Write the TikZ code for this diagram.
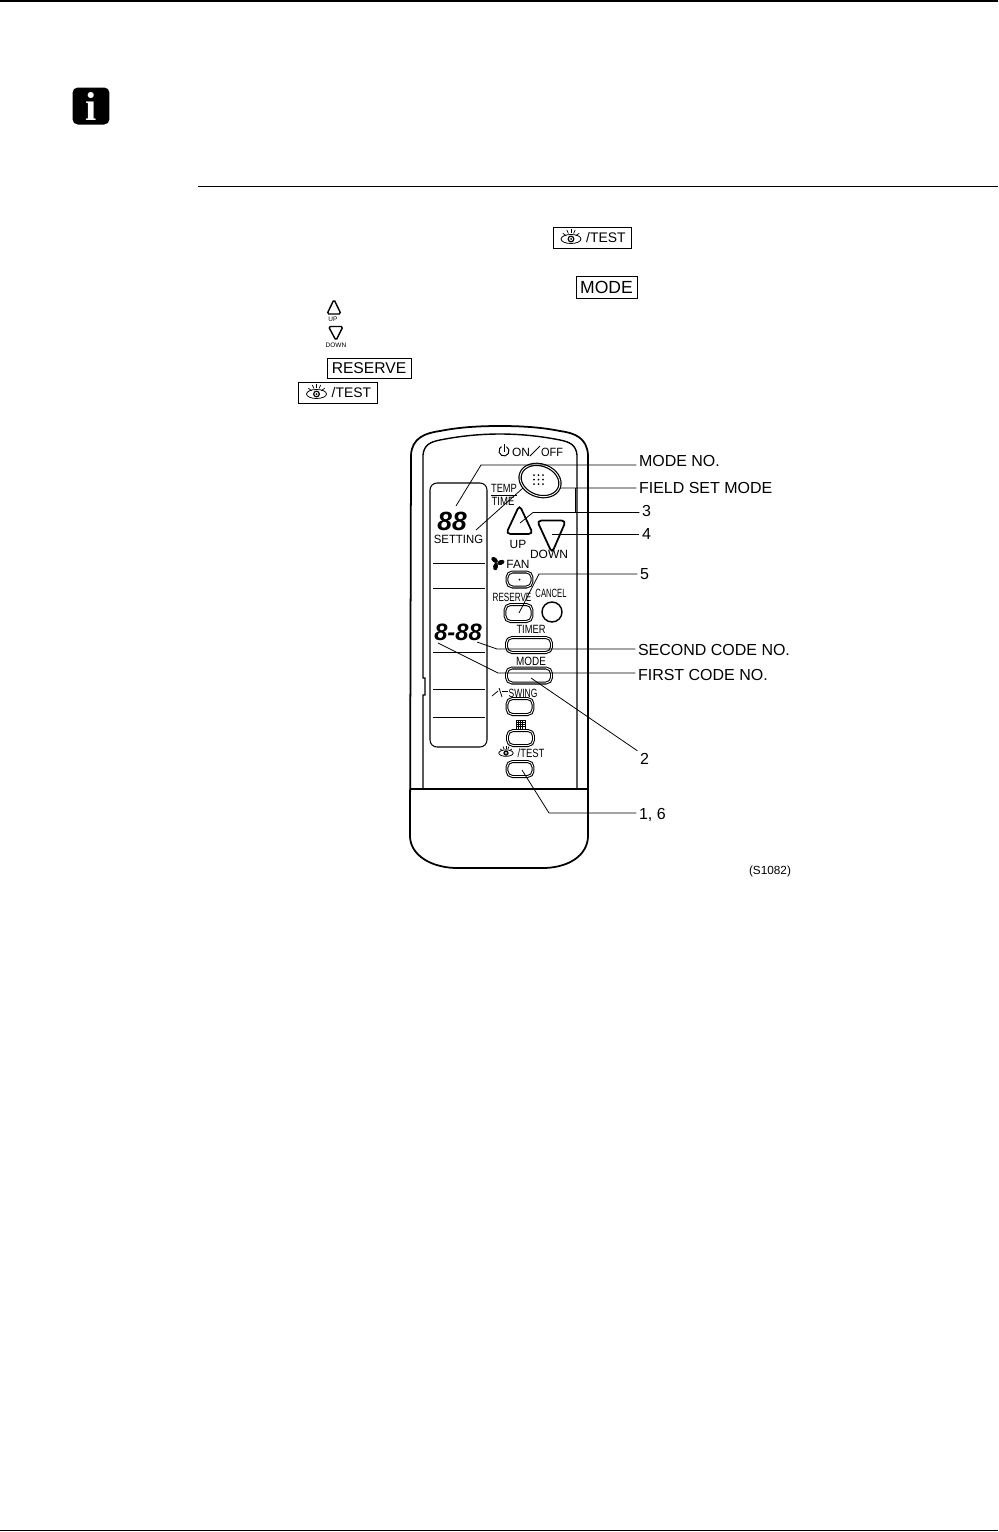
\documentclass[tikz,border=0pt]{standalone}
\usepackage{fontspec}
\setmainfont{Liberation Sans}
\newfontfamily\infofont{Liberation Serif}
\usetikzlibrary{shapes.geometric}
\tikzset{
  eyeicon/.pic={
    \draw[line width=0.45pt] (0,1.5) ellipse (10 and 4.5);
    \draw[line width=0.7pt] (0,1.5) circle (2.8);
    \fill (0,1.5) circle (1);
    \foreach \a in {215,245,270,295,325} \draw[line width=0.4pt] ($(0,1.5)+(\a:6)$) -- ($(0,1.5)+(\a:10)$);
  },
  fanicon/.pic={
    \foreach \a in {20,140,260} \fill[rotate=\a] (3.8,0.8) ellipse (3.8 and 2.4);
  }
}
\usetikzlibrary{calc}
\begin{document}
\begin{tikzpicture}[x=0.02cm, y=-0.02cm,
    every node/.style={inner sep=0pt, text depth=0pt},
    lblstyle/.style={font=\fontsize{9.1}{11}\selectfont, anchor=west, outer sep=1.5pt},
    remtxt/.style={font=\fontsize{6.8}{8}\selectfont, transform shape},
    keybox/.style={draw, line width=0.55pt},
    btn/.style={draw, fill=white, rounded corners=0.11cm, line width=0.6pt, double, double distance=0.5pt},
    leader/.style={line width=0.45pt},
    body/.style={line width=0.8pt}]
  \useasboundingbox (0,0) rectangle (998,1532);
  % page rules and info mark
  \draw[line width=0.85pt] (0,0.8) -- (998,0.8);
  \draw[line width=0.5pt] (198,186) -- (998,186);
  \draw[line width=0.5pt] (0,1530) -- (998,1530);
  \node[fill=black, text=white, rounded corners=3pt, minimum size=0.74cm, font=\infofont\bfseries\fontsize{23}{23}\selectfont] (infoMark) at (91,106) {i};
  % keys named in the steps
  \node[keybox, minimum width=1.56cm, minimum height=0.42cm, font=\fontsize{7.9}{9}\selectfont] (keyTestA) at (592,237.5) {\hspace*{15.8pt}/TEST};
  \pic at ([xshift=-0.42cm]keyTestA.center) {eyeicon};
  \node[keybox, minimum width=1.22cm, minimum height=0.44cm, font=\fontsize{10}{12}\selectfont] (keyMode) at (606.5,287) {MODE};
  \node[keybox, minimum width=1.68cm, minimum height=0.40cm, font=\fontsize{8.9}{11}\selectfont] (keyReserve) at (369,368) {RESERVE};
  \node[keybox, minimum width=1.58cm, minimum height=0.42cm, font=\fontsize{7.9}{9}\selectfont] (keyTestB) at (337.5,392.5) {\hspace*{15.8pt}/TEST};
  \pic at ([xshift=-0.42cm]keyTestB.center) {eyeicon};
  \draw[line width=0.8pt, rounded corners=1pt] (334,299.5) -- (341,314) -- (327,314) -- cycle;
  \node[font=\fontsize{3.7}{4}\selectfont] (keyUp) at (333,319) {UP};
  \draw[line width=0.8pt, rounded corners=1pt] (328.5,326.5) -- (343,326.5) -- (336,340.5) -- cycle;
  \node[font=\fontsize{3.7}{4}\selectfont] (keyDown) at (336,345) {DOWN};
  % remote body
  \draw[body, line width=1pt] (410,837) -- (411,455) .. controls (412,438) and (425,433) .. (440,431)
    .. controls (460,427) and (480,426) .. (500,426) .. controls (520,426) and (540,427) .. (560,431)
    .. controls (575,433) and (587,438) .. (588,455) -- (588,837)
    .. controls (587,855) and (570,867) .. (545,868) -- (455,868) .. controls (430,867) and (411,855) .. (410,837) -- cycle;
  \draw[body] (423,789) -- (423,695) -- (425,695) -- (425,678) -- (423,678) -- (423,455)
    .. controls (424,445) and (430,442) .. (440,440) .. controls (460,436) and (480,434) .. (500,434)
    .. controls (520,434) and (540,436) .. (560,440) .. controls (570,442) and (576,445) .. (577,455) -- (577,789);
  \draw[body] (410,789) -- (588,789);
  % display panel
  \draw[body, line width=0.6pt, rounded corners=4pt] (430,483) rectangle (487,747);
  \foreach \y in {563,588,652,689,717} {
    \draw[line width=0.45pt] (433,\y) -- (485,\y);
  }
  \node[font=\bfseries\itshape\fontsize{15}{15}\selectfont] (lcdMode) at (452,521) {88};
  \node[font=\bfseries\itshape\fontsize{13.5}{14}\selectfont] (lcdCode) at (458,632) {8-88};
  % field set leader runs under the ring
  \coordinate (kneeField) at (523,488);
  \coordinate (endField) at (476,530);
  \node[lblstyle] (lblField) at (636.4,488) {FIELD SET MODE};
  \draw[leader] (lblField.west) -- (kneeField) -- (endField);
  \node[draw, fill=white, ellipse, rotate=-20, line width=0.7pt, double, double distance=0.5pt, minimum width=0.82cm, minimum height=0.62cm] (btnTemp) at (540,480.5) {};
  \foreach \x in {534,538.5,543} {
    \foreach \y in {475,479.5,484} {
      \fill (\x,\y) circle (1);
    }
  }
  % arrow keys
  \draw[line width=1pt, rounded corners=2.5pt] (519.5,505) -- (533,534) -- (506,534) -- cycle;
  \draw[line width=1pt, rounded corners=2.5pt] (537,520.5) -- (566,520.5) -- (552,553) -- cycle;
  % square keys
  \foreach \n/\x/\y/\w/\h in {btnFan/519.5/579.5/25/15, btnReserve/518.5/613/27/17, btnTimer/529/645/45/15,
      btnMode/529/675.5/45/15, btnSwing/520/706.5/26/16, btnGrid/520.5/738/26/15, btnTest/520/769/26/15} {
    \node[btn, minimum width=\w*0.02cm, minimum height=\h*0.02cm] (\n) at (\x,\y) {};
  }
  \fill (btnFan.center) circle (1);
  \node[draw, circle, line width=0.8pt, minimum size=0.4cm] (btnCancel) at (552,612) {};
  % printing on the remote
  \foreach \n/\x/\y/\t/\s in {txtOn/521/452/ON/1, txtOff/552/452/OFF/0.92, txtTemp/504/488/TEMP/0.78, txtTime/503/501/TIME/0.8,
      txtSetting/458.5/539/SETTING/0.95, txtUp/518/544/UP/1, txtDown/549/554/DOWN/1, txtFan/518/564/FAN/1,
      txtReserve/512/597/RESERVE/0.68, txtCancel/551/593/CANCEL/0.64, txtTimer/531/629/TIMER/0.78,
      txtMode/531/661/MODE/0.83, txtSwing/523/693/SWING/0.71, txtTest/531/753/{/TEST}/0.79} {
    \node[remtxt, xscale=\s] (\n) at (\x,\y) {\t};
  }
  \draw[line width=0.45pt] (530,456) -- (540,446);
  \draw[line width=0.55pt] ([shift={(300:5)}]504,451) arc (300:600:5);
  \draw[line width=0.55pt] (504,444) -- (504,452);
  \draw[line width=0.5pt] (491,495) -- (517,495);
  \pic at (497,563) {fanicon};
  \draw[line width=0.45pt] (492,696) -- (498,691);
  \draw[line width=0.45pt] (499,688) -- (502,697);
  \draw[line width=0.45pt] (502,691) -- (508,691);
  \foreach \i in {0,...,4} {
    \draw[line width=0.3pt] (516+\i*2.2,720) -- ++(0,8.8);
    \draw[line width=0.3pt] (516,720+\i*2.2) -- ++(8.8,0);
  }
  \pic[scale=0.72] at (506,752) {eyeicon};
  % callouts
  \foreach \n/\x/\y/\t in {lblModeNo/636.4/461/MODE NO., lblThree/639.4/511/3, lblFour/639.4/534/4, lblFive/637.4/574/5,
      lblSecond/635.4/650/SECOND CODE NO., lblFirst/635.4/675/FIRST CODE NO., lblTwo/637.4/759/2, lblOneSix/636.4/814/{1, 6}} {
    \node[lblstyle] (\n) at (\x,\y) {\t};
  }
  \node[font=\fontsize{6.7}{8}\selectfont] (lblRef) at (770,870) {(S1082)};
  \foreach \n/\x/\y in {kneeModeNo/481/465, endModeNo/456/506, kneeThree/533/512.5, endThree/520/523, endFour/552/534,
      kneeFive/539/574, endFive/519/613, kneeSecond/497/649, endSecond/477/642, kneeFirst/498/673, endFirst/438/643,
      endTwo/531/678, kneeOneSix/549/813, endOneSix/522/770} {
    \coordinate (\n) at (\x,\y);
  }
  \draw[leader] (lblModeNo.west |- kneeModeNo) -- (kneeModeNo) -- (endModeNo);
  \draw[leader] (lblThree.west |- kneeThree) -- (kneeThree) -- (endThree);
  \draw[leader] (lblFour.west |- endFour) -- (endFour);
  \draw[leader] (lblFive.west |- kneeFive) -- (kneeFive) -- (endFive);
  \draw[leader] (lblSecond.west |- kneeSecond) -- (kneeSecond) -- (endSecond);
  \draw[leader] (lblFirst.west |- kneeFirst) -- (kneeFirst) -- (endFirst);
  \draw[leader] (lblTwo.north west) -- (endTwo);
  \draw[leader] (lblOneSix.west |- kneeOneSix) -- (kneeOneSix) -- (endOneSix);
  \draw[line width=0.55pt] (575,488) -- (575,512.5);
\end{tikzpicture}
\end{document}
